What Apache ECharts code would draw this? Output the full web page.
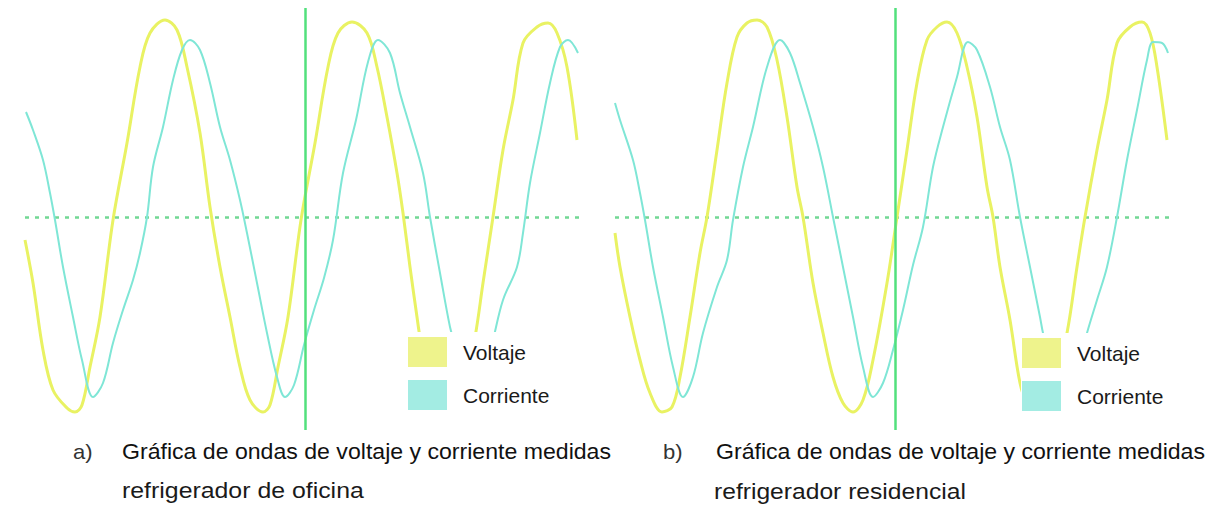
<!DOCTYPE html>
<html>
<head>
<meta charset="utf-8">
<script src="https://cdn.jsdelivr.net/npm/echarts@6/dist/echarts.min.js"></script>
<style>
html,body{margin:0;padding:0;background:#fff;}
#chart{width:1219px;height:507px;}
</style>
</head>
<body>
<div id="chart"></div>
<script>
// Panel a) refrigerador de oficina  — [time, value] samples
var voltajeA = [[0,-23],[8,-66],[18,-133],[28,-173],[42,-191],[50,-195],[57,-188],[65,-150],[75,-100],[88,-3],[102,74],[115,150],[125,184],[140,197],[152,187],[162,150],[175,84],[185,10],[195,-50],[205,-100],[215,-150],[225,-183],[238,-195],[245,-188],[253,-150],[263,-100],[276,-3],[290,74],[303,150],[313,184],[327,195],[342,184],[352,150],[362,100],[372,44],[378,4],[385,-50],[392,-100],[395,-120],[403,-158],[412,-183],[422,-195],[432,-188],[441,-158],[450,-120],[458,-66],[468,0],[478,67],[488,117],[498,174],[512,190],[523,194],[532,184],[542,150],[552,77]];
var corrienteA = [[1,105],[8,87],[18,57],[25,24],[30,-3],[38,-50],[48,-100],[57,-143],[68,-180],[78,-166],[88,-126],[98,-93],[108,-63],[115,-36],[122,0],[128,50],[138,90],[148,137],[157,167],[165,177],[175,167],[185,134],[195,90],[205,57],[215,17],[222,-16],[232,-66],[242,-116],[252,-160],[260,-180],[269,-168],[279,-128],[289,-93],[299,-61],[308,-23],[318,44],[331,97],[343,155],[353,177],[365,164],[375,124],[385,90],[398,44],[405,0],[415,-56],[425,-110],[430,-128],[438,-163],[447,-180],[457,-166],[468,-123],[478,-83],[492,-50],[498,-16],[505,34],[515,84],[525,134],[535,170],[543,177],[553,164]];
// Panel b) refrigerador residencial
var voltajeB = [[0,-16],[5,-50],[15,-100],[25,-143],[35,-176],[47,-195],[57,-190],[65,-160],[75,-100],[85,-36],[92,0],[102,67],[112,134],[122,180],[132,194],[142,197],[152,190],[162,157],[172,100],[182,30],[188,0],[198,-66],[208,-116],[218,-160],[228,-186],[238,-195],[248,-183],[258,-143],[272,-66],[282,0],[292,67],[302,134],[312,177],[322,190],[332,195],[342,184],[352,150],[362,100],[372,30],[378,0],[385,-50],[395,-103],[405,-166],[412,-186],[422,-195],[432,-183],[442,-153],[452,-116],[462,-50],[470,0],[482,67],[492,117],[502,174],[515,190],[527,195],[535,184],[542,150],[552,77]];
var corrienteB = [[0,114],[5,97],[18,57],[25,24],[30,-3],[38,-50],[48,-100],[58,-150],[68,-180],[78,-160],[88,-116],[102,-70],[112,-43],[118,-3],[128,50],[138,90],[152,150],[165,177],[175,164],[185,134],[198,90],[208,50],[218,0],[228,-50],[238,-100],[248,-150],[258,-180],[268,-166],[278,-133],[288,-93],[298,-48],[308,-10],[318,50],[328,90],[342,140],[353,175],[362,167],[375,130],[385,90],[395,57],[405,0],[415,-50],[425,-100],[428,-116],[437,-153],[447,-178],[457,-168],[465,-143],[472,-116],[482,-83],[492,-50],[502,0],[512,57],[522,107],[532,157],[538,175],[547,174],[553,164]];

var seriesNames = ['Voltaje', 'Corriente'];
var cursorTime = [280, 280];
var captionsA = ['a)', 'Gráfica de ondas de voltaje y corriente medidas', 'refrigerador de oficina'];
var captionsB = ['b)', 'Gráfica de ondas de voltaje y corriente medidas', 'refrigerador residencial'];

var YEL = '#e9f263', CYA = '#7fe6d6', VLINE = '#52e07c', ZLINE = '#72d894';

function panelSeries(idx, volt, curr, cursor) {
  return [
    {
      name: seriesNames[0], type: 'line', xAxisIndex: idx, yAxisIndex: idx,
      data: volt, smooth: 0.35, showSymbol: false, z: 2,
      lineStyle: { color: YEL, width: 3 }, itemStyle: { color: YEL },
      markLine: {
        silent: true, symbol: 'none', z: 3, label: { show: false },
        data: [{ xAxis: cursor, lineStyle: { color: VLINE, width: 2.5, type: 'solid' } }]
      }
    },
    {
      name: seriesNames[1], type: 'line', xAxisIndex: idx, yAxisIndex: idx,
      data: curr, smooth: 0.35, showSymbol: false, z: 2,
      lineStyle: { color: CYA, width: 2 }, itemStyle: { color: CYA },
      markLine: {
        silent: true, symbol: 'none', z: 1, label: { show: false },
        data: [{ yAxis: 0, lineStyle: { color: ZLINE, width: 2.5, type: [4, 6] } }]
      }
    }
  ];
}

function legend(left, top, padLeft) {
  return {
    orient: 'vertical', left: left, top: top, selectedMode: false,
    backgroundColor: '#ffffff', z: 10,
    padding: [5, 18, 12, padLeft],
    icon: 'rect', itemWidth: 39, itemHeight: 30, itemGap: 13,
    textStyle: { fontFamily: 'Liberation Sans, Arial, sans-serif', fontSize: 21, color: '#1a1a1a', padding: [0, 0, 0, 11] },
    data: [
      { name: seriesNames[0], itemStyle: { color: '#eef38c' } },
      { name: seriesNames[1], itemStyle: { color: '#a3ece3' } }
    ]
  };
}

function cap(x, y, text, size, sx, color) {
  return { type: 'text', x: x, y: y, scaleX: sx, originX: 0, originY: 0,
    style: { text: text, fill: color, font: size + 'px "Liberation Sans", Arial, sans-serif', verticalAlign: 'middle', align: 'left' } };
}

var chart = echarts.init(document.getElementById('chart'), null, { renderer: 'svg' });
chart.setOption({
  backgroundColor: '#ffffff',
  animation: false,
  grid: [
    { left: 25, top: 8, width: 555, height: 422 },
    { left: 615, top: 8, width: 555, height: 422 }
  ],
  xAxis: [
    { type: 'value', gridIndex: 0, min: 0, max: 555, show: false },
    { type: 'value', gridIndex: 1, min: 0, max: 555, show: false }
  ],
  yAxis: [
    { type: 'value', gridIndex: 0, min: -213, max: 209, show: false },
    { type: 'value', gridIndex: 1, min: -213, max: 209, show: false }
  ],
  legend: [legend(405, 332, 3), legend(1021, 333, 1)],
  series: panelSeries(0, voltajeA, corrienteA, cursorTime[0]).concat(panelSeries(1, voltajeB, corrienteB, cursorTime[1])),
  graphic: [
    cap(73, 452, captionsA[0], 21, 1.05, '#333'),
    cap(122, 452, captionsA[1], 22, 1.05, '#111'),
    cap(122, 491, captionsA[2], 22, 1.13, '#1a1a1a'),
    cap(663, 452, captionsB[0], 21, 1.05, '#333'),
    cap(716, 452, captionsB[1], 22, 1.05, '#111'),
    cap(714, 491, captionsB[2], 22, 1.12, '#1a1a1a')
  ]
});
</script>
</body>
</html>
